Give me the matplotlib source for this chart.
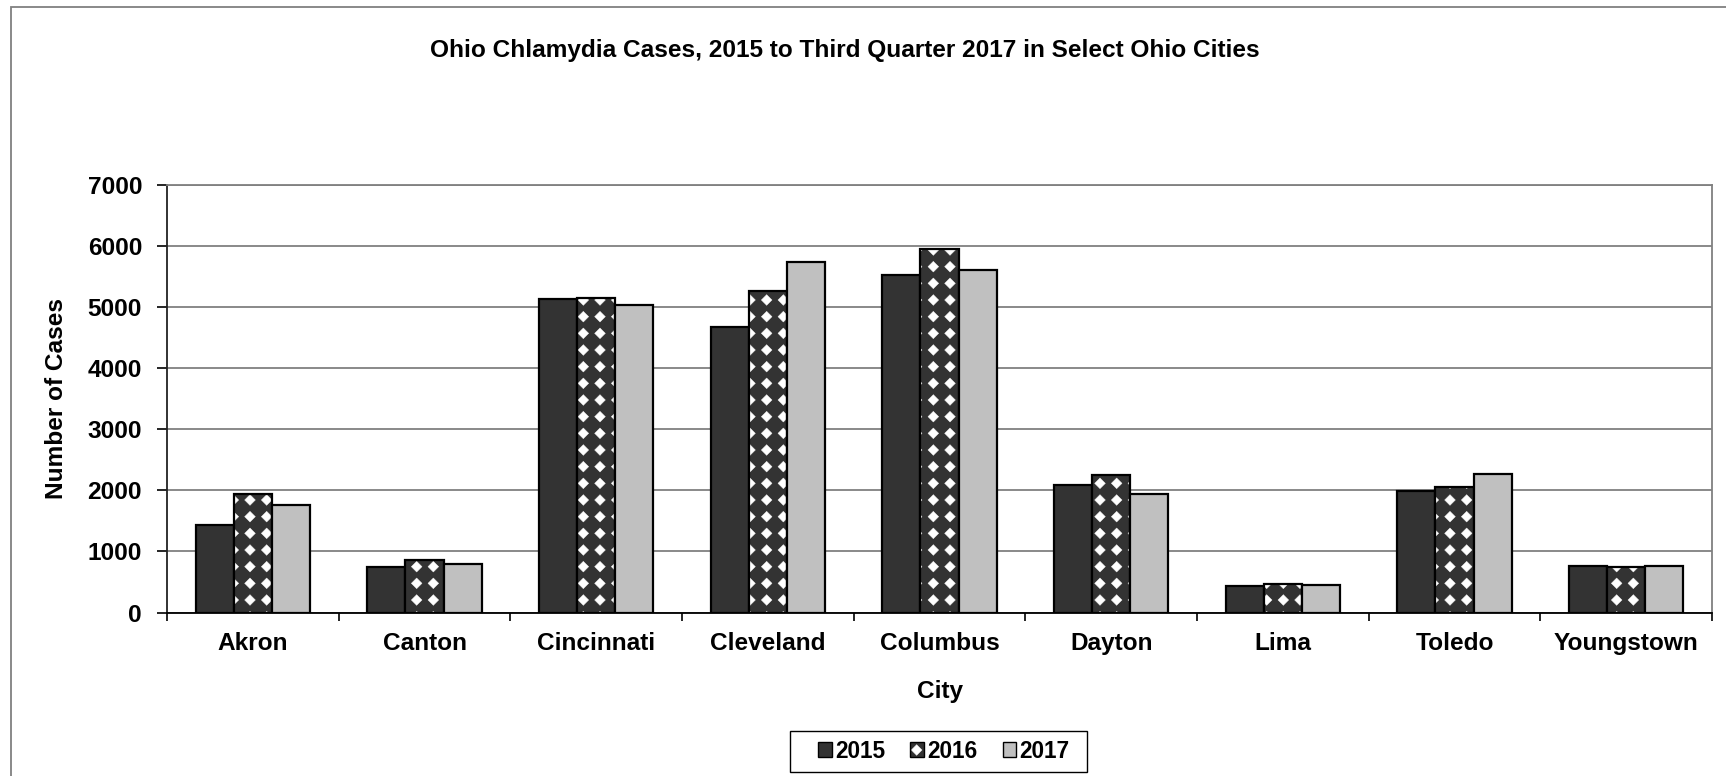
import numpy as np
import matplotlib
matplotlib.use("Agg")
import matplotlib.pyplot as plt
import matplotlib.hatch as mhatch
from matplotlib.path import Path
from matplotlib.patches import Rectangle

# ---------------- data ----------------
cities = ["Akron", "Canton", "Cincinnati", "Cleveland", "Columbus",
          "Dayton", "Lima", "Toledo", "Youngstown"]
years = ["2015", "2016", "2017"]
cases_2015 = [1430, 740, 5125, 4675, 5525, 2080, 432, 1980, 755]
cases_2016 = [1940, 860, 5145, 5265, 5950, 2250, 465, 2060, 745]
cases_2017 = [1755, 800, 5035, 5730, 5610, 1940, 445, 2268, 765]
yticks = [0, 1000, 2000, 3000, 4000, 5000, 6000, 7000]

title = "Ohio Chlamydia Cases, 2015 to Third Quarter 2017 in Select Ohio Cities"
xlabel = "City"
ylabel = "Number of Cases"

# ---------------- custom diamond hatch (aligned grid of filled diamonds) ----
class Diamonds(mhatch.HatchPatternBase):
    filled = True
    size = 0.32

    def __init__(self, hatch, density):
        self.n = hatch.count('*') * density
        p = Path.unit_regular_polygon(4)
        self.shape_vertices = p.vertices
        self.shape_codes = p.codes
        self.num_vertices = 0 if self.n == 0 else (self.n + 1) ** 2 * len(p.vertices)

    def set_vertices_and_codes(self, vertices, codes):
        off = 1.0 / self.n
        sv = self.shape_vertices * off * self.size
        vp, cp = [], []
        for i in range(self.n + 1):
            for j in range(self.n + 1):
                vp.append(sv + [i * off, j * off])
                cp.append(self.shape_codes)
        np.concatenate(vp, out=vertices)
        np.concatenate(cp, out=codes)

mhatch._hatch_types = [t for t in mhatch._hatch_types if t is not mhatch.Stars] + [Diamonds]

plt.rcParams['font.family'] = ['Liberation Sans', 'DejaVu Sans']
plt.rcParams['font.weight'] = 'bold'
plt.rcParams['hatch.linewidth'] = 0.3

W, H = 1726, 776
fig = plt.figure(figsize=(W / 100, H / 100), dpi=100)
fig.patch.set_facecolor('white')

# outer chart border (right/bottom fall outside the image)
fig.add_artist(Rectangle((11 / W, -0.05), 1.2, (H - 7) / H + 0.05,
                         transform=fig.transFigure, fill=False,
                         edgecolor='#808080', linewidth=1.3))

ax = fig.add_axes([167 / W, 163.5 / H, (1712 - 167) / W, (612.5 - 184.6) / H])

x = np.arange(len(cities))
bw = 1 / 4.5
dark = '#333333'
light = '#C0C0C0'

b1 = ax.bar(x - bw, cases_2015, bw, color=dark, edgecolor='black', linewidth=1.6, zorder=3, label=years[0])
b2 = ax.bar(x, cases_2016, bw, color=dark, edgecolor='black', linewidth=1.6, hatch='*', zorder=3, label=years[1])
for p in b2:
    p._hatch_color = (1, 1, 1, 1)
b3 = ax.bar(x + bw, cases_2017, bw, color=light, edgecolor='black', linewidth=1.6, zorder=3, label=years[2])

ax.set_xlim(-0.5, len(cities) - 0.5)
ax.set_ylim(0, 7000)
ax.set_yticks(yticks)
ax.set_yticklabels([str(v) for v in yticks])
ax.yaxis.grid(True, color='#808080', linewidth=1.3, zorder=0)
ax.set_axisbelow(True)

ax.set_xticks(np.arange(len(cities) + 1) - 0.5)
ax.set_xticklabels([])
ax.set_xticks(x, minor=True)
ax.set_xticklabels(cities, minor=True)
ax.tick_params(axis='x', which='major', length=6, width=1.2, color='black', direction='out')
ax.tick_params(axis='x', which='minor', length=0, pad=14, labelsize=17.6)
ax.tick_params(axis='y', length=7, width=1.2, color='black', pad=11, labelsize=17.6)

for s in ['top', 'right']:
    ax.spines[s].set_color('#808080')
    ax.spines[s].set_linewidth(1.3)
ax.spines['left'].set_color('#222222')
ax.spines['left'].set_linewidth(1.3)
ax.spines['bottom'].set_color('black')
ax.spines['bottom'].set_linewidth(1.3)

ax.set_xlabel(xlabel, fontsize=17.6, fontweight='bold', labelpad=18)
ax.set_ylabel(ylabel, fontsize=17.6, fontweight='bold', labelpad=14)

fig.text(845 / W, 1 - 50 / H, title, ha='center', va='center', fontsize=17.6, fontweight='bold')

leg = fig.legend(handles=[b1, b2, b3], labels=years, loc='center',
                 bbox_to_anchor=(944 / W, 25 / H), ncol=3, frameon=False,
                 fontsize=16.3,
                 handlelength=0.6, handleheight=0.6, handletextpad=0.15,
                 columnspacing=1.1, borderpad=0.45)
for h in leg.legend_handles:
    h.set_linewidth(1.0)
leg.legend_handles[1]._hatch_color = (1, 1, 1, 1)
# legend frame
fig.add_artist(Rectangle((790 / W, (H - 772) / H), (1087 - 790) / W, 41 / H,
                         transform=fig.transFigure, fill=False,
                         edgecolor='black', linewidth=1.0))

fig.savefig('out.png', dpi=100)
